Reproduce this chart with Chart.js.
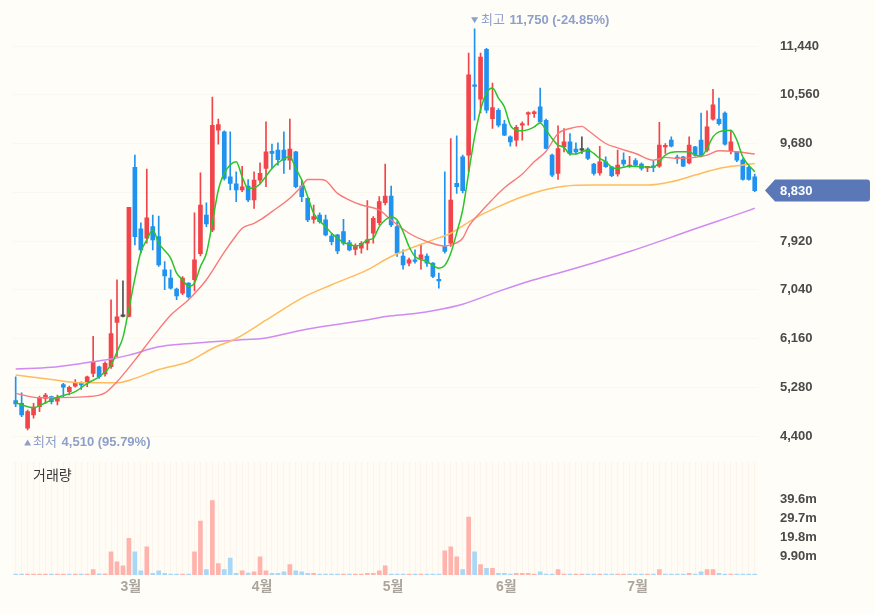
<!DOCTYPE html>
<html><head><meta charset="utf-8">
<script src="https://cdn.jsdelivr.net/npm/chart.js@4.4.1/dist/chart.umd.min.js"></script>
<style>
html,body{margin:0;padding:0;background:#fffdf7;}
#wrap{position:relative;width:875px;height:614px;overflow:hidden;}
#pc{position:absolute;left:0;top:0;}
#vc{position:absolute;left:0;top:458px;}
</style></head><body>
<div id="wrap">
<canvas id="pc" width="875" height="458"></canvas>
<canvas id="vc" width="875" height="156"></canvas>
</div>
<script>
// ---- data (daily candles, index 0..124) ----
const opens = [5040,4990,4540,4780,4930,5080,5110,5030,5330,5200,5300,5350,5380,5530,5650,5520,5650,6450,6560,6560,
9250,8140,7970,8180,8000,7400,7250,7050,6980,7160,7220,7690,8390,8120,9920,9890,9080,8950,8840,8910,
8660,9020,9230,9540,9560,9560,9380,9530,8910,8690,8310,8390,8300,8010,8030,8090,7890,7770,7790,7880,
8060,8250,8610,8730,8180,7650,7520,7580,7590,7650,7520,7230,7820,7880,8960,9440,9470,10740,10480,11380,
10130,10280,10030,9800,9740,10010,10210,10220,10340,10100,9470,9140,9620,9710,9580,9560,9580,9310,9150,9350,
9260,9130,9380,9260,9370,9310,9240,9270,9270,9620,9740,9430,9440,9330,9620,9740,9560,10120,10120,10230,
9550,9530,9380,9250,9080];
const highs = [5470,5180,4870,4990,5120,5170,5120,5140,5350,5300,5420,5380,5480,6200,5660,5740,6860,7220,7200,8530,
9470,8250,9220,8390,8370,7550,7400,7070,7280,7170,8430,9150,8610,10520,10120,9910,9890,9170,9270,9030,
9170,9330,10070,9670,9690,9890,10120,9540,9020,8700,8570,8430,8390,8050,8040,8310,7930,7870,7910,8650,
8360,8720,9310,8910,8270,7760,7610,7760,7850,7690,7530,7340,9170,9770,9820,9470,11310,11750,11310,11400,
10770,10310,10100,9820,10010,10070,10250,10270,10680,10120,9490,10000,9950,9860,9690,9800,9600,9320,9630,9440,
9270,9560,9510,9450,9410,9330,9270,9370,10060,9680,9800,9470,9450,9800,9630,10230,10270,10660,10500,10250,
9920,9540,9410,9270,9130];
const lows = [4930,4750,4510,4720,4840,4990,4980,4960,5110,5140,5280,5240,5290,5470,5440,5480,5620,5830,6550,6550,
7850,7700,7880,7760,7460,7040,7050,6860,6950,6890,7020,7650,8180,8090,9670,9020,8840,8630,8810,8630,
8510,8960,8900,9230,9290,9140,9210,8880,8630,8270,8240,8240,8010,7850,7690,7850,7740,7670,7700,7760,
7880,8210,8570,8180,7640,7410,7470,7520,7410,7460,7260,7070,7700,7820,8780,8790,9170,10100,10230,10230,
9950,9980,9820,9630,9630,9740,10010,10150,10060,9580,9080,9030,9530,9470,9490,9500,9390,9110,9110,9250,
9080,9090,9270,9250,9260,9200,9170,9170,9250,9500,9620,9320,9260,9310,9450,9440,9530,10100,10010,9650,
9490,9350,9020,9020,8810];
const closes = [4980,4780,4840,4920,5100,5140,5020,5100,5280,5280,5350,5320,5470,5740,5470,5710,6250,6550,6560,8530,
8000,7760,8340,7940,7490,7290,7070,6930,7250,6910,7580,8570,8230,10010,10020,9050,8960,8840,8900,8660,
9020,9140,9530,9500,9390,9380,9580,8900,8720,8300,8360,8270,8030,7910,7740,7880,7760,7830,7880,7940,
8330,8630,8730,8210,7700,7490,7580,7550,7670,7520,7280,7200,7730,8660,8900,8830,10920,10710,11240,10280,
10330,10010,9830,9710,9970,10040,10240,10250,10070,9590,9110,9590,9710,9500,9530,9560,9410,9140,9350,9260,
9100,9290,9310,9290,9290,9230,9260,9250,9650,9640,9630,9410,9270,9650,9470,9470,9980,10380,10040,9670,
9710,9380,9030,9030,8830];
// volume in millions of shares
const volumes = [0.5,0.3,0.3,0.2,0.2,0.2,0.2,0.4,0.3,0.2,
0.3,0.2,0.3,2.8,0.6,0.6,12.1,6.9,4.8,19.2,
12.1,2.2,14.7,0.9,2.2,0.9,0.5,0.5,0.5,0.5,
12.1,28.1,2.8,38.9,6.0,2.8,8.8,0.9,2.2,1.0,
1.7,9.5,2.2,0.9,0.9,1.7,5.4,2.2,1.7,0.9,
0.9,0.4,0.4,0.3,0.3,0.3,0.3,0.2,0.2,0.9,
0.9,2.2,4.8,0.4,0.4,0.4,0.2,0.1,0.4,0.1,
0.1,0.1,12.6,14.7,9.5,2.8,30.2,12.1,5.4,3.5,
3.5,0.9,0.9,0.4,0.9,0.9,0.9,0.4,1.7,0.4,
0.4,2.8,0.4,0.2,0.2,0.4,0.2,0.2,0.4,0.2,
0.1,0.4,0.2,0.1,0.1,0.1,0.1,0.1,2.8,0.4,
0.4,0.1,0.1,0.9,0.2,1.7,2.8,2.8,0.9,0.4,
0.4,0.2,0.4,0.2,0.2];
// moving averages: [candle index, price]
const ma5Points = [[0,5000],[3,4910],[5,5000],[7,5100],[10,5200],[12,5350],[14,5470],[16,5680],[17,5920],[18,6180],[19,6700],[20,7240],[21,7720],[22,7940],[23,8120],[24,7880],[26,7610],[27,7340],[28,7220],[29,7100],[30,7160],[31,7460],[32,7700],[33,8250],[34,8840],[35,9140],[37,9350],[38,9080],[39,8870],[40,8880],[41,8950],[42,9090],[43,9230],[44,9330],[46,9440],[47,9230],[48,9020],[49,8720],[50,8420],[52,8180],[53,8060],[54,7970],[55,7890],[56,7860],[57,7830],[58,7860],[59,7940],[60,7970],[61,8180],[62,8300],[63,8360],[64,8300],[65,8090],[66,7820],[67,7640],[69,7550],[70,7480],[71,7430],[72,7480],[73,7700],[74,8070],[75,8480],[76,9150],[77,9800],[78,10290],[79,10590],[80,10680],[81,10500],[82,10340],[83,10010],[84,9920],[85,9910],[86,9930],[87,9980],[88,10050],[89,9920],[90,9770],[91,9650],[92,9610],[93,9490],[94,9490],[95,9530],[96,9560],[97,9500],[98,9410],[99,9350],[100,9250],[101,9230],[103,9270],[105,9260],[107,9250],[108,9350],[109,9470],[111,9530],[113,9530],[114,9470],[115,9455],[116,9590],[117,9800],[118,9890],[120,9920],[121,9740],[122,9440],[124,9170]];
const ma20Points = [[0,5170],[4,5090],[12,5110],[15,5180],[17,5380],[20,5770],[23,6190],[26,6580],[29,6860],[32,7220],[35,7720],[37,8020],[38,8150],[40,8240],[41,8300],[43,8450],[46,8690],[48,8910],[49,9030],[51,9030],[52,9010],[54,8780],[56,8660],[58,8570],[61,8480],[63,8300],[66,8060],[69,7910],[72,7830],[73,7850],[75,7970],[76,8180],[78,8440],[80,8670],[82,8880],[85,9130],[87,9350],[89,9540],[91,9860],[93,9950],[95,9990],[96,9920],[99,9680],[101,9600],[104,9500],[107,9380],[109,9430],[111,9410],[114,9430],[116,9470],[118,9550],[121,9530],[124,9490]];
const ma60Points = [[0,5500],[6,5420],[11,5360],[17,5360],[20,5440],[24,5600],[29,5740],[33,5980],[37,6160],[42,6490],[48,6890],[53,7130],[59,7400],[63,7640],[70,7940],[73,8060],[77,8330],[81,8540],[85,8720],[89,8850],[92,8910],[97,8930],[106,8930],[110,8990],[114,9110],[118,9230],[122,9290],[124,9320]];
const ma120Points = [[0,5610],[6,5640],[11,5710],[16,5790],[19,5860],[24,6010],[28,6060],[33,6100],[37,6130],[42,6170],[48,6310],[53,6400],[58,6480],[63,6570],[67,6610],[70,6660],[75,6780],[81,7010],[86,7190],[92,7370],[98,7560],[103,7730],[109,7950],[114,8140],[120,8360],[124,8510]];
const monthTickIdx = [19,41,63,82,104];
const monthTickLabels = ['3월','4월','5월','6월','7월'];
const priceTicks = [4400,5280,6160,7040,7920,8800,9680,10560,11440];
const volumeTicks = [9.9,19.8,29.7,39.6];
const volumeTickLabels = ['9.90m','19.8m','29.7m','39.6m'];

// ---- styling ----
const FONT = "'Liberation Sans','Noto Sans CJK KR',Arial,sans-serif";
Chart.defaults.font.family = FONT;
const UP = '#f2444b', DOWN = '#1f93ef', FLAT = '#505050';
const VUP = '#ffb3ad', VDOWN = '#a9d7f6';
const N = closes.length;
const idx = Array.from({length: N}, (_, i) => i);
const candleColor = idx.map(i => closes[i] > opens[i] ? UP : (closes[i] < opens[i] ? DOWN : FLAT));
const volColor = idx.map(i => (i > 0 ? closes[i] > closes[i-1] : closes[i] > opens[i]) ? VUP : VDOWN);
const LEFT = 12.7, AXISW = 117.3;
const xMin = -0.5, xMax = N - 0.5;
const noPad = s => { s.paddingTop = 0; s.paddingBottom = 0; s.paddingLeft = 0; s.paddingRight = 0; };

const maLine = (pts, color, w) => ({
  type: 'line', data: pts.map(([x, y]) => ({x, y})), borderColor: color, borderWidth: w,
  pointRadius: 0, cubicInterpolationMode: 'monotone', fill: false, order: 0
});

const annotPlugin = {
  id: 'annot',
  afterDraw(chart) {
    const ctx = chart.ctx, xs = chart.scales.x, ys = chart.scales.y;
    const last = closes[N - 1];
    const hi = Math.max(...highs), hiIdx = highs.indexOf(hi);
    const lo = Math.min(...lows), loIdx = lows.indexOf(lo);
    const fmt = v => v.toLocaleString('en-US');
    const col = '#8d9fca';
    ctx.save();
    ctx.textBaseline = 'middle';
    // high
    let x0 = xs.getPixelForValue(hiIdx), y0 = ys.getPixelForValue(hi) - 8.5;
    ctx.fillStyle = col;
    ctx.beginPath(); ctx.moveTo(x0 - 3.5, y0 - 3); ctx.lineTo(x0 + 3.5, y0 - 3); ctx.lineTo(x0, y0 + 3); ctx.closePath(); ctx.fill();
    ctx.font = '13px ' + FONT; ctx.textAlign = 'left';
    ctx.fillText('최고', x0 + 6.5, y0);
    ctx.font = 'bold 13px ' + FONT;
    ctx.fillText(fmt(hi) + ' (' + ((last - hi) / hi * 100).toFixed(2) + '%)', x0 + 35, y0);
    // low
    x0 = xs.getPixelForValue(loIdx); y0 = ys.getPixelForValue(lo) + 12.5;
    ctx.beginPath(); ctx.moveTo(x0 - 3.5, y0 + 3); ctx.lineTo(x0 + 3.5, y0 + 3); ctx.lineTo(x0, y0 - 3); ctx.closePath(); ctx.fill();
    ctx.font = '13px ' + FONT;
    ctx.fillText('최저', x0 + 5.5, y0);
    ctx.font = 'bold 13px ' + FONT;
    ctx.fillText(fmt(lo) + ' (' + ((last - lo) / lo * 100).toFixed(2) + '%)', x0 + 34, y0);
    // current price tag
    const yc = ys.getPixelForValue(last);
    const L = 765, R = 870, h = 11;
    ctx.fillStyle = '#5a78b8';
    ctx.beginPath();
    ctx.moveTo(L, yc); ctx.lineTo(L + 10, yc - h); ctx.lineTo(R - 3, yc - h);
    ctx.quadraticCurveTo(R, yc - h, R, yc - h + 3); ctx.lineTo(R, yc + h - 3);
    ctx.quadraticCurveTo(R, yc + h, R - 3, yc + h); ctx.lineTo(L + 10, yc + h); ctx.closePath(); ctx.fill();
    ctx.fillStyle = '#ffffff'; ctx.font = 'bold 13px ' + FONT; ctx.textAlign = 'left';
    ctx.fillText(fmt(last), 780, yc + 0.5);
    ctx.restore();
  }
};

new Chart(document.getElementById('pc'), {
  type: 'bar',
  data: { datasets: [
    maLine(ma5Points, '#2bc42a', 1.5),
    maLine(ma20Points, '#f77b7b', 1.4),
    maLine(ma60Points, '#ffbc5e', 1.5),
    maLine(ma120Points, '#cf8af6', 1.5),
    { type: 'bar', data: idx.map(i => ({x: i, y: [lows[i], highs[i]]})), backgroundColor: candleColor,
      barThickness: 1, grouped: false, order: 2 },
    { type: 'bar', data: idx.map(i => ({x: i, y: [opens[i], closes[i]]})), backgroundColor: candleColor,
      barThickness: 4, minBarLength: 1.5, grouped: false, order: 1 }
  ]},
  options: {
    responsive: false, animation: false, devicePixelRatio: 1,
    layout: { padding: { left: LEFT, right: 0, top: 0, bottom: 0 }, autoPadding: false },
    plugins: { legend: { display: false }, tooltip: { enabled: false } },
    scales: {
      x: { type: 'linear', min: xMin, max: xMax, offset: false, display: false },
      y: { position: 'right', min: 4002.9, max: 12270.4,
        afterBuildTicks: s => { s.ticks = priceTicks.map(v => ({value: v})); },
        afterFit: s => { s.width = AXISW; noPad(s); },
        ticks: { padding: 22.3, color: '#4a4a4a', font: { size: 13, weight: 'bold' },
          callback: v => v === 8800 ? '' : v.toLocaleString('en-US') },
        grid: { color: 'rgba(120,100,60,0.04)', drawTicks: false },
        border: { display: false } }
    }
  },
  plugins: [annotPlugin]
});

const volPlugin = {
  id: 'volbg',
  beforeDraw(chart) {
    const {ctx, chartArea: a} = chart;
    ctx.save(); ctx.fillStyle = 'rgba(255,246,242,0.35)';
    ctx.fillRect(a.left, a.top, a.right - a.left, a.bottom - a.top); ctx.restore();
  },
  afterDraw(chart) {
    const ctx = chart.ctx;
    ctx.save(); ctx.fillStyle = '#3a3a3a'; ctx.font = '14px ' + FONT;
    ctx.textBaseline = 'middle'; ctx.textAlign = 'left';
    ctx.fillText('거래량', 33, 18.5); ctx.restore();
  }
};

new Chart(document.getElementById('vc'), {
  type: 'bar',
  data: { datasets: [
    { data: idx.map(i => ({x: i, y: volumes[i]})), backgroundColor: volColor, barThickness: 4, minBarLength: 1 }
  ]},
  options: {
    responsive: false, animation: false, devicePixelRatio: 1,
    layout: { padding: { left: LEFT, right: 0, top: 4, bottom: 0 }, autoPadding: false },
    plugins: { legend: { display: false }, tooltip: { enabled: false } },
    scales: {
      x: { type: 'linear', min: xMin, max: xMax, offset: false,
        afterBuildTicks: s => { s.ticks = idx.map(i => ({value: i})); },
        afterFit: s => { s.height = 39; noPad(s); },
        ticks: { autoSkip: false, maxRotation: 0, minRotation: 0, padding: 4, labelOffset: 2,
          color: '#aca59d', font: { size: 14, weight: 'bold' },
          callback: v => { const k = monthTickIdx.indexOf(v); return k >= 0 ? monthTickLabels[k] : ''; } },
        grid: { color: 'rgba(225,205,195,0.16)', drawTicks: false, offset: false },
        border: { display: false } },
      y: { position: 'right', min: 0, max: 59,
        afterBuildTicks: s => { s.ticks = volumeTicks.map(v => ({value: v})); },
        afterFit: s => { s.width = AXISW; noPad(s); },
        ticks: { padding: 22.3, color: '#4a4a4a', font: { size: 13, weight: 'bold' },
          callback: v => volumeTickLabels[volumeTicks.indexOf(v)] },
        grid: { display: false, drawTicks: false },
        border: { display: false } }
    }
  },
  plugins: [volPlugin]
});
</script>
</body></html>
